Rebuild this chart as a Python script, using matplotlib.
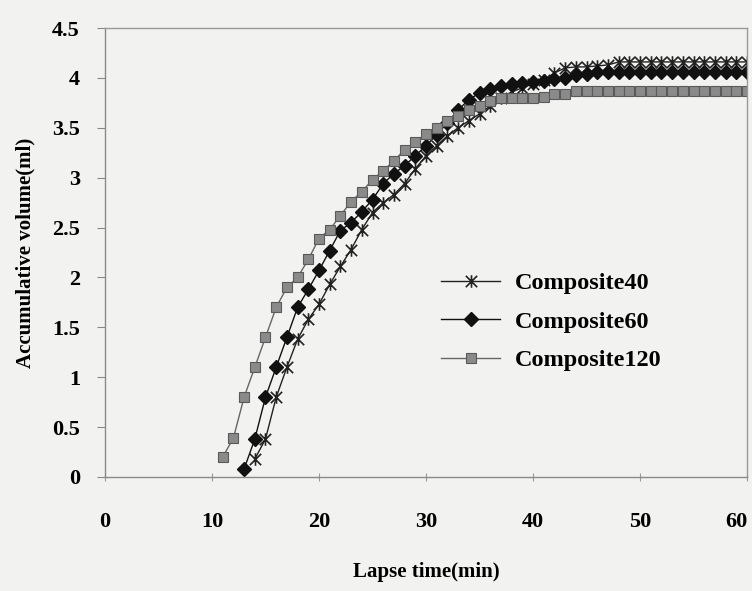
import matplotlib
matplotlib.use("Agg")
import matplotlib.pyplot as plt
from matplotlib.path import Path

# time in minutes, accumulated volume in ml
t40 = list(range(14, 61))
v40 = [0.18, 0.38, 0.8, 1.1, 1.38, 1.58, 1.73, 1.93, 2.11, 2.28, 2.48, 2.65,
       2.75, 2.83, 2.94, 3.09, 3.22, 3.32, 3.42, 3.5, 3.57, 3.64, 3.72, 3.8,
       3.86, 3.9, 3.94, 3.98, 4.05, 4.1, 4.11, 4.11, 4.12, 4.13, 4.16, 4.16,
       4.16, 4.16, 4.16, 4.16, 4.16, 4.16, 4.16, 4.16, 4.16, 4.16, 4.16]

t60 = list(range(13, 61))
v60 = [0.08, 0.38, 0.8, 1.1, 1.4, 1.7, 1.88, 2.07, 2.27, 2.47, 2.55, 2.66,
       2.78, 2.94, 3.04, 3.12, 3.22, 3.32, 3.43, 3.55, 3.68, 3.78, 3.85, 3.89,
       3.92, 3.94, 3.95, 3.96, 3.97, 3.99, 4.0, 4.03, 4.04, 4.06, 4.06, 4.06,
       4.06, 4.06, 4.06, 4.06, 4.06, 4.06, 4.06, 4.06, 4.06, 4.06, 4.06, 4.06]

t120 = list(range(11, 61))
v120 = [0.2, 0.39, 0.8, 1.1, 1.4, 1.7, 1.9, 2.0, 2.18, 2.39, 2.48, 2.62,
        2.76, 2.86, 2.98, 3.07, 3.17, 3.28, 3.36, 3.44, 3.5, 3.57, 3.62, 3.68,
        3.72, 3.77, 3.8, 3.8, 3.8, 3.8, 3.81, 3.84, 3.84, 3.87, 3.87, 3.87,
        3.87, 3.87, 3.87, 3.87, 3.87, 3.87, 3.87, 3.87, 3.87, 3.87, 3.87, 3.87,
        3.87, 3.87]

xticks = [0, 10, 20, 30, 40, 50, 60]
yticks = [0, 0.5, 1, 1.5, 2, 2.5, 3, 3.5, 4, 4.5]
ytick_labels = ['0', '0.5', '1', '1.5', '2', '2.5', '3', '3.5', '4', '4.5']

plt.rcParams['font.family'] = ['Liberation Serif', 'DejaVu Serif']
plt.rcParams['font.weight'] = 'bold'
plt.rcParams['axes.labelweight'] = 'bold'

# Excel-like star marker: an X with a vertical stroke
star = Path([(-1, -1), (1, 1), (-1, 1), (1, -1), (0, -1.1), (0, 1.1)],
            [Path.MOVETO, Path.LINETO, Path.MOVETO, Path.LINETO,
             Path.MOVETO, Path.LINETO])

bg = '#f2f2f0'
fig = plt.figure(figsize=(7.52, 5.91), dpi=100, facecolor=bg)
ax = fig.add_axes([0.1396, 0.1929, 0.8538, 0.7597])
ax.set_facecolor(bg)

ax.plot(t40, v40, color='#222222', lw=1.0, marker=star, ms=9, mew=1.2,
        mec='#222222', label='Composite40')
ax.plot(t60, v60, color='#111111', lw=1.0, marker='D', ms=7, mfc='#111111',
        mec='#111111', label='Composite60')
ax.plot(t120, v120, color='#666666', lw=1.0, marker='s', ms=7.5, mfc='#8a8a8a',
        mec='#5a5a5a', mew=0.8, label='Composite120')

ax.set_xlim(0, 60)
ax.set_ylim(0, 4.5)
ax.set_xticks(xticks)
ax.set_yticks(yticks)
ax.set_yticklabels(ytick_labels)
ax.tick_params(axis='y', direction='out', length=6, width=0.8, color='#888888',
               labelsize=16, pad=12)
ax.tick_params(axis='x', direction='inout', length=6, width=0.8, color='#999999',
               labelsize=16, pad=22)
ax.get_xticklabels()[-1].set_horizontalalignment('right')

for side in ['left', 'bottom']:
    ax.spines[side].set_color('#8a8a8a')
    ax.spines[side].set_linewidth(1.0)
for side in ['top', 'right']:
    ax.spines[side].set_color('#9a9a9a')
    ax.spines[side].set_linewidth(1.0)

ax.set_xlabel('Lapse time(min)', fontsize=15, labelpad=22)
ax.set_ylabel('Accumulative volume(ml)', fontsize=15, labelpad=12)

leg = ax.legend(loc='upper left', bbox_to_anchor=(0.49, 0.505), frameon=False,
                fontsize=17.5, handlelength=2.4, labelspacing=0.68,
                handletextpad=0.6)

fig.savefig('out.png', dpi=100, facecolor=bg)
